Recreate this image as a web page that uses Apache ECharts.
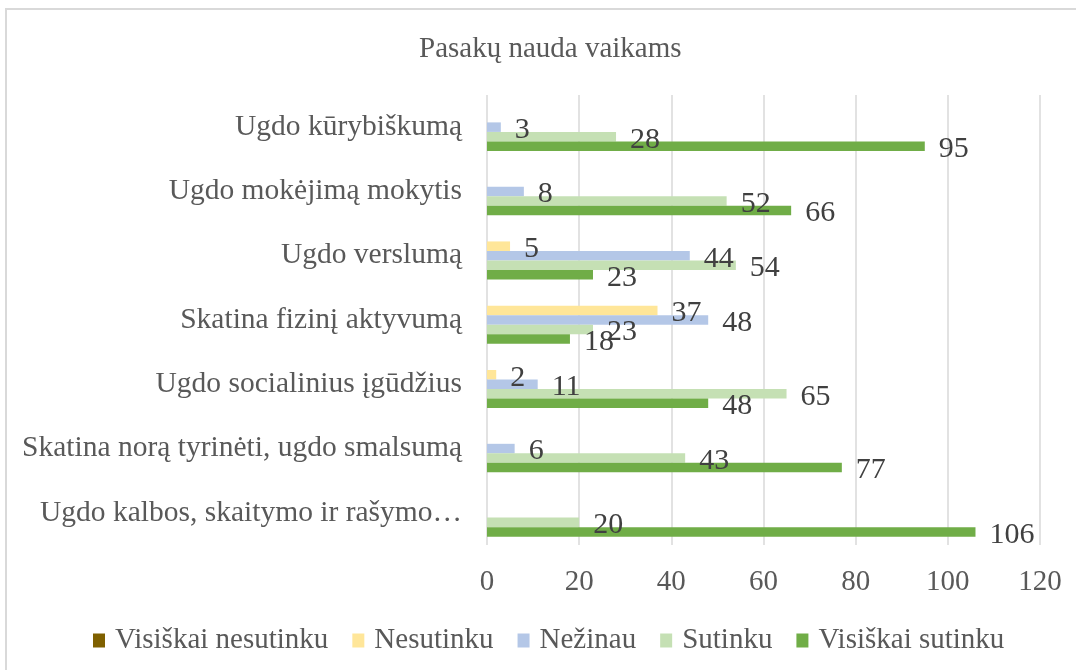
<!DOCTYPE html>
<html>
<head>
<meta charset="utf-8">
<script src="https://cdn.jsdelivr.net/npm/echarts@6/dist/echarts.min.js"></script>
<style>
  html, body { margin: 0; padding: 0; background: #fff; }
  #chart { width: 1076px; height: 670px; }
</style>
</head>
<body>
<div id="chart"></div>
<script>
// kategorijos (iš viršaus į apačią)
const categories = [
  "Ugdo kūrybiškumą",
  "Ugdo mokėjimą mokytis",
  "Ugdo verslumą",
  "Skatina fizinį aktyvumą",
  "Ugdo socialinius įgūdžius",
  "Skatina norą tyrinėti, ugdo smalsumą",
  "Ugdo kalbos, skaitymo ir rašymo…"
];
const seriesNames = ["Visiškai nesutinku", "Nesutinku", "Nežinau", "Sutinku", "Visiškai sutinku"];
const visiskaiNesutinku = [null, null, null, null, null, null, null];
const nesutinku = [null, null, 5, 37, 2, null, null];
const nezinau = [3, 8, 44, 48, 11, 6, null];
const sutinku = [28, 52, 54, 23, 65, 43, 20];
const visiskaiSutinku = [95, 66, 23, 18, 48, 77, 106];
const xTicks = [0, 20, 40, 60, 80, 100, 120];

const colors = ["#7f6000", "#ffe699", "#b4c7e7", "#c5e0b4", "#70ad47"];
const values = [visiskaiNesutinku, nesutinku, nezinau, sutinku, visiskaiSutinku];
const font = "Liberation Serif";

const series = values.map((arr, i) => ({
  name: seriesNames[i],
  type: "bar",
  data: arr,
  barGap: "0%",
  barCategoryGap: "26%",
  itemStyle: { color: colors[i] },
  label: {
    show: true,
    position: "right",
    distance: 14,
    offset: [0, 3],
    fontFamily: font,
    fontSize: 30,
    color: "#404040"
  }
}));

const chart = echarts.init(document.getElementById("chart"));
chart.setOption({
  animation: false,
  color: colors,
  graphic: [
    {
      type: "rect",
      shape: { x: 6, y: 9, width: 1100, height: 700 },
      style: { fill: "none", stroke: "#d9d9d9", lineWidth: 2 }
    }
  ],
  title: {
    text: "Pasakų nauda vaikams",
    left: 414,
    top: 30,
    textStyle: { fontFamily: font, fontSize: 29, fontWeight: "normal", color: "#595959" }
  },
  grid: { left: 487, right: 36, top: 95, bottom: 125 },
  xAxis: {
    type: "value",
    min: 0,
    max: 120,
    interval: 20,
    axisLine: { show: false },
    axisTick: { show: false },
    splitLine: { lineStyle: { color: "#d9d9d9", width: 1.5 } },
    axisLabel: {
      margin: 23,
      fontFamily: font,
      fontSize: 29,
      color: "#595959",
      formatter: (v) => (xTicks.includes(v) ? String(v) : "")
    }
  },
  yAxis: {
    type: "category",
    inverse: true,
    data: categories,
    axisLine: { show: false },
    axisTick: { show: false },
    axisLabel: {
      margin: 25,
      fontFamily: font,
      fontSize: 29.5,
      color: "#595959"
    }
  },
  legend: {
    data: seriesNames,
    left: 88,
    top: 621,
    icon: "rect",
    itemWidth: 12,
    itemHeight: 14,
    itemGap: 24,
    textStyle: { fontFamily: font, fontSize: 29, color: "#595959", padding: [0, 0, 0, 5] }
  },
  series: series
});
</script>
</body>
</html>
